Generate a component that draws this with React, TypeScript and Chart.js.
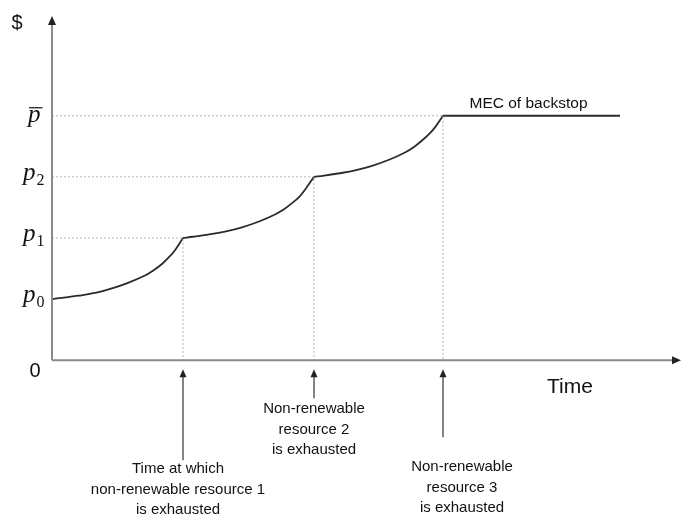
import React, { useEffect, useRef } from "react";
import { Chart, registerables } from "chart.js";

Chart.register(...registerables);

// Time axis (arbitrary units) and price axis (price levels p0, p1, p2, p-bar = 1..4)
const TIME_MAX = 628;
const PRICE_MAX = 5.6;
const PRICE_MIN = -2.55;

const seg1Time = [0, 10, 26, 43, 60, 76, 93, 101, 110, 116, 123, 131];
const seg1Price = [1.0, 1.02, 1.055, 1.1, 1.175, 1.265, 1.385, 1.465, 1.575, 1.67, 1.8, 2.0];
const seg2Time = [131, 141, 156, 173, 190, 207, 223, 232, 240, 247, 253, 262];
const seg2Price = [2.0, 2.02, 2.055, 2.105, 2.175, 2.27, 2.385, 2.47, 2.57, 2.67, 2.79, 3.0];
const seg3Time = [262, 272, 286, 303, 320, 337, 353, 362, 370, 377, 383, 391];
const seg3Price = [3.0, 3.02, 3.055, 3.105, 3.18, 3.28, 3.4, 3.49, 3.595, 3.7, 3.81, 4.0];
const backstopTime = [391, 568];
const backstopPrice = [4.0, 4.0];

const exhaustTimes = [131, 262, 391];
const exhaustPrices = [2, 3, 4];

const priceLevels = [1, 2, 3, 4];
const priceSubs = ["0", "1", "2", ""];

const noteLines = [
  ["Time at which", "non-renewable resource 1", "is exhausted"],
  ["Non-renewable", "resource 2", "is exhausted"],
  ["Non-renewable", "resource 3", "is exhausted"],
];
const backstopLabel = "MEC of backstop";
const xAxisLabel = "Time";
const yAxisLabel = "$";
const originLabel = "0";

const SANS = '"Liberation Sans", Arial, sans-serif';
const SERIF = '"Liberation Serif", "Times New Roman", serif';

function pts(xs: number[], ys: number[]) {
  return xs.map((x, i) => ({ x, y: ys[i] }));
}

const decorPlugin = {
  id: "decor",
  afterDatasetsDraw(chart: any) {
    const ctx = chart.ctx as CanvasRenderingContext2D;
    const xs = chart.scales.x;
    const ys = chart.scales.y;
    const x0 = xs.getPixelForValue(0);
    const y0 = ys.getPixelForValue(0);
    const xEnd = xs.getPixelForValue(TIME_MAX);
    const yTop = ys.getPixelForValue(PRICE_MAX);
    ctx.save();

    // axes
    ctx.strokeStyle = "#8a8a8a";
    ctx.lineWidth = 2;
    ctx.beginPath();
    ctx.moveTo(x0, y0);
    ctx.lineTo(x0, yTop + 6);
    ctx.moveTo(x0, y0);
    ctx.lineTo(xEnd - 6, y0);
    ctx.stroke();
    ctx.fillStyle = "#222";
    ctx.beginPath();
    ctx.moveTo(x0, yTop - 2);
    ctx.lineTo(x0 - 4, yTop + 7);
    ctx.lineTo(x0 + 4, yTop + 7);
    ctx.closePath();
    ctx.fill();
    ctx.beginPath();
    ctx.moveTo(xEnd + 1, y0);
    ctx.lineTo(xEnd - 8, y0 - 4);
    ctx.lineTo(xEnd - 8, y0 + 4);
    ctx.closePath();
    ctx.fill();

    // axis texts
    ctx.fillStyle = "#111";
    ctx.textAlign = "center";
    ctx.textBaseline = "middle";
    ctx.font = `20px ${SANS}`;
    ctx.fillText(yAxisLabel, x0 - 35, yTop + 5);
    ctx.fillText(originLabel, x0 - 17, y0 + 11);
    ctx.font = `21px ${SANS}`;
    ctx.fillText(xAxisLabel, xs.getPixelForValue(518), y0 + 27);

    // price labels
    ctx.textBaseline = "alphabetic";
    priceLevels.forEach((lvl, i) => {
      const py = ys.getPixelForValue(lvl);
      const sub = priceSubs[i];
      ctx.textAlign = "left";
      ctx.font = `italic 25px ${SERIF}`;
      if (sub) {
        const bx = x0 - 29;
        ctx.fillText("p", bx, py + 3);
        const w = ctx.measureText("p").width;
        ctx.font = `16px ${SERIF}`;
        ctx.fillText(sub, bx + w + 1, py + 8);
      } else {
        const bx = x0 - 24;
        ctx.fillText("p", bx, py + 6);
        const w = ctx.measureText("p").width;
        ctx.strokeStyle = "#111";
        ctx.lineWidth = 1.2;
        ctx.beginPath();
        ctx.moveTo(bx + 1, py - 8);
        ctx.lineTo(bx + w + 2, py - 8);
        ctx.stroke();
      }
    });

    // backstop label
    ctx.textAlign = "center";
    ctx.font = `15.5px ${SANS}`;
    ctx.fillStyle = "#111";
    const bMid = (backstopTime[0] + backstopTime[1]) / 2;
    ctx.fillText(backstopLabel, xs.getPixelForValue(bMid) - 3, ys.getPixelForValue(backstopPrice[0]) - 8);

    // annotation arrows and notes
    const arrowTails = [100, 38, 77];
    const textTops = [109, 49, 107];
    const textShift = [-5, 0, 19];
    exhaustTimes.forEach((t, i) => {
      const px = xs.getPixelForValue(t);
      ctx.strokeStyle = "#333";
      ctx.lineWidth = 1.2;
      ctx.beginPath();
      ctx.moveTo(px, y0 + 16);
      ctx.lineTo(px, y0 + arrowTails[i]);
      ctx.stroke();
      ctx.fillStyle = "#222";
      ctx.beginPath();
      ctx.moveTo(px, y0 + 9);
      ctx.lineTo(px - 3.5, y0 + 17);
      ctx.lineTo(px + 3.5, y0 + 17);
      ctx.closePath();
      ctx.fill();
      ctx.fillStyle = "#111";
      ctx.font = `15px ${SANS}`;
      ctx.textBaseline = "middle";
      noteLines[i].forEach((line, j) => {
        ctx.fillText(line, px + textShift[i], y0 + textTops[i] + j * 20.5);
      });
      ctx.textBaseline = "alphabetic";
    });

    ctx.restore();
  },
};

export default function App() {
  const ref = useRef<HTMLCanvasElement | null>(null);
  useEffect(() => {
    document.body.style.margin = "0";
    if (!ref.current) return;
    const curveStyle = {
      borderColor: "#2b2b2b",
      borderWidth: 1.8,
      pointRadius: 0,
      showLine: true,
      fill: false,
      tension: 0.4,
    };
    const guides = exhaustTimes.map((t, i) => ({
      data: [
        { x: 0, y: exhaustPrices[i] },
        { x: t, y: exhaustPrices[i] },
        { x: t, y: 0 },
      ],
      borderColor: "#b5b5b5",
      borderWidth: 1,
      borderDash: [2, 2],
      pointRadius: 0,
      showLine: true,
      fill: false,
      tension: 0,
    }));
    const chart = new Chart(ref.current, {
      type: "scatter",
      data: {
        datasets: [
          ...guides,
          { data: pts(seg1Time, seg1Price), ...curveStyle },
          { data: pts(seg2Time, seg2Price), ...curveStyle },
          { data: pts(seg3Time, seg3Price), ...curveStyle },
          { data: pts(backstopTime, backstopPrice), ...curveStyle, tension: 0 },
        ] as any,
      },
      options: {
        animation: false,
        responsive: false,
        layout: { padding: { left: 52, right: 2, top: 18, bottom: 0 } },
        plugins: { legend: { display: false }, tooltip: { enabled: false } },
        events: [],
        scales: {
          x: { type: "linear", min: 0, max: TIME_MAX, display: false },
          y: { type: "linear", min: PRICE_MIN, max: PRICE_MAX, display: false },
        },
      },
      plugins: [decorPlugin],
    });
    return () => chart.destroy();
  }, []);
  return (
    <div style={{ width: 682, height: 516, background: "#fff" }}>
      <canvas ref={ref} width={682} height={516} style={{ display: "block" }} />
    </div>
  );
}
